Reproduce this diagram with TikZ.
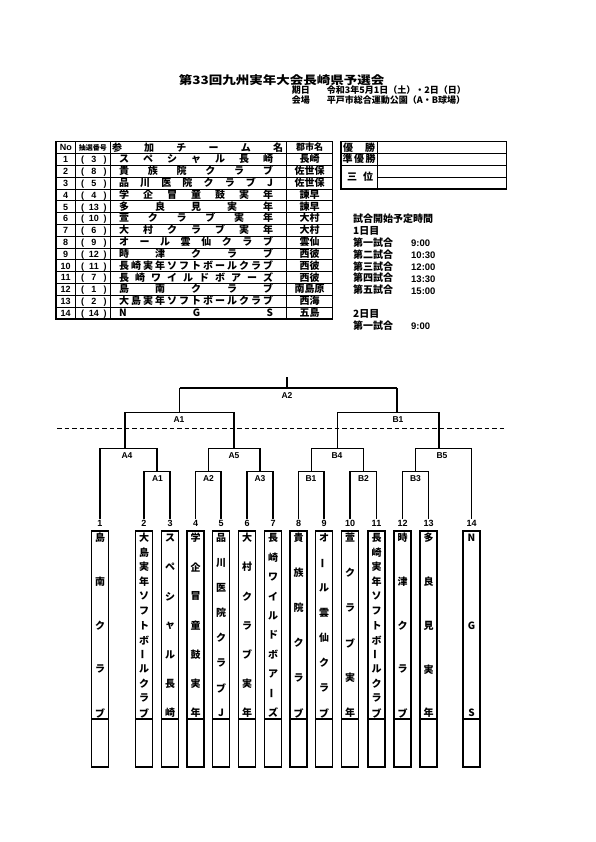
\documentclass[tikz,border=0pt]{standalone}
\usepackage{fontspec}
\setmainfont{Noto Sans CJK JP}
\newfontfamily\lat{Liberation Sans}
\newcommand\vb{\rotatebox[origin=c]{90}{ー}}
\tikzset{
  ln/.style={line width=0.9pt},
  tk/.style={line width=1.4pt},
  br/.style={line width=1.1pt},
  brt/.style={line width=1.7pt},
  jp/.style={inner sep=0pt, text height=7.8pt, text depth=1pt, font=\bfseries\fontsize{10}{10}\selectfont},
  jpm/.style={inner sep=0pt, text height=7.2pt, text depth=1pt, font=\bfseries\fontsize{9}{9}\selectfont},
  jpx/.style={inner sep=0pt, text height=5.6pt, text depth=0.8pt, font=\bfseries\fontsize{7}{7}\selectfont},
  lt/.style={inner sep=0pt, text height=6.5pt, text depth=0pt, font=\lat\bfseries\fontsize{9}{9}\selectfont},
  vch/.style={inner sep=0pt, font=\bfseries\fontsize{10}{10}\selectfont},
  blbl/.style={inner sep=0pt, font=\lat\bfseries\fontsize{8.5}{8.5}\selectfont},
  nlbl/.style={inner sep=1pt, font=\lat\bfseries\fontsize{9}{9}\selectfont},
  sch/.style={anchor=west, inner sep=0pt, text height=7.8pt, text depth=1pt, font=\bfseries\fontsize{10}{10}\selectfont},
  scht/.style={anchor=west, inner sep=0pt, font=\lat\bfseries\fontsize{9.5}{9.5}\selectfont},
  dashln/.style={line width=1pt, dash pattern=on 4.5pt off 3pt},
}
\begin{document}
\begin{tikzpicture}[x=1pt,y=-1pt]
\useasboundingbox[fill=white] (0,0) rectangle (595,842);

% ---------- title ----------
\node[font=\bfseries\fontsize{13.5}{14}\selectfont, inner sep=0pt] (title) at (281.7,80) {\scalebox{1}[0.85]{第33回九州実年大会長崎県予選会}};
\node[jpm, anchor=west] (kj) at (291.7,90.8) {期日};
\node[jpm, anchor=west] (kjv) at (326.7,90.8) {令和3年5月1日（土）・2日（日）};
\node[jpm, anchor=west] (kb) at (291.7,100) {会場};
\node[jpm, anchor=west] (kbv) at (326.7,100) {平戸市総合運動公園（A・B球場）};

% ---------- entry table ----------
\draw[tk] (56,141.8) rectangle (332.5,319);
\foreach \k in {1,...,14} {\draw[ln] (56,{141.8+11.81*\k}) -- (332.5,{141.8+11.81*\k});}
\foreach \xx in {75.5,110,286.5} {\draw[ln] (\xx,141.8) -- (\xx,319);}

\node[lt] (hno) at (65.75,147.7) {No};
\node[jpx] (hdn) at (92.75,147.7) {抽選番号};
\node[jp] (htm) at (197.5,147.7) {\makebox[171pt][s]{参\hfill 加\hfill チ\hfill ー\hfill ム\hfill 名}};
\node[jpm] (hct) at (309.5,147.7) {郡市名};

\foreach \dn/\team/\city [count=\r] in {
  3/{ス\hfill ペ\hfill シ\hfill ャ\hfill ル\hfill 長\hfill 崎}/長崎,
  8/{貴\hfill 族\hfill 院\hfill ク\hfill ラ\hfill ブ}/佐世保,
  5/{品\hfill 川\hfill 医\hfill 院\hfill ク\hfill ラ\hfill ブ\hfill J}/佐世保,
  4/{学\hfill 企\hfill 冒\hfill 童\hfill 鼓\hfill 実\hfill 年}/諫早,
  13/{多\hfill 良\hfill 見\hfill 実\hfill 年}/諫早,
  10/{萱\hfill ク\hfill ラ\hfill ブ\hfill 実\hfill 年}/大村,
  6/{大\hfill 村\hfill ク\hfill ラ\hfill ブ\hfill 実\hfill 年}/大村,
  9/{オ\hfill ー\hfill ル\hfill 雲\hfill 仙\hfill ク\hfill ラ\hfill ブ}/雲仙,
  12/{時\hfill 津\hfill ク\hfill ラ\hfill ブ}/西彼,
  11/{長\hfill 崎\hfill 実\hfill 年\hfill ソ\hfill フ\hfill ト\hfill ボ\hfill ー\hfill ル\hfill ク\hfill ラ\hfill ブ}/西彼,
  7/{長\hfill 崎\hfill ワ\hfill イ\hfill ル\hfill ド\hfill ボ\hfill ア\hfill ー\hfill ズ}/西彼,
  1/{島\hfill 南\hfill ク\hfill ラ\hfill ブ}/南島原,
  2/{大\hfill 島\hfill 実\hfill 年\hfill ソ\hfill フ\hfill ト\hfill ボ\hfill ー\hfill ル\hfill ク\hfill ラ\hfill ブ}/西海,
  14/{N\hfill G\hfill S}/五島} {
  \pgfmathsetmacro\yy{141.8+11.81*(\r+0.5)}
  \node[lt] (no\r) at (65.75,\yy) {\r};
  \node[lt] (lp\r) at (82.7,\yy) {(};
  \node[lt] (dn\r) at (94,\yy) {\dn};
  \node[lt] (rp\r) at (105,\yy) {)};
  \node[jp] (tm\r) at (196,\yy) {\makebox[154pt][s]{\team}};
  \node[jp] (ct\r) at (309.5,\yy) {\city};
}

% ---------- result box ----------
\draw[tk] (341,141.8) rectangle (506.5,189);
\draw[ln] (377.3,141.8) -- (377.3,189);
\draw[ln] (341,153.6) -- (506.5,153.6);
\draw[ln] (341,165.4) -- (506.5,165.4);
\draw[ln] (377.3,177.2) -- (506.5,177.2);
\node[jp] (r1) at (359.2,147.7) {\makebox[32pt][s]{優\hfill 勝}};
\node[jp] (r2) at (359.2,159.5) {\makebox[33pt][s]{準\hfill 優\hfill 勝}};
\node[jp] (r3) at (360,177.2) {\makebox[26pt][s]{三\hfill 位}};

% ---------- schedule ----------
\node[sch] (s0) at (353,219.5) {試合開始予定時間};
\node[sch] (s1) at (353,231.3) {1日目};
\node[sch] (s2) at (353,243.1) {第一試合};
\node[sch] (s3) at (353,254.9) {第二試合};
\node[sch] (s4) at (353,266.7) {第三試合};
\node[sch] (s5) at (353,278.5) {第四試合};
\node[sch] (s6) at (353,290.3) {第五試合};
\node[sch] (s7) at (353,313.9) {2日目};
\node[sch] (s8) at (353,325.7) {第一試合};
\node[scht] (t2) at (411,243.6) {9:00};
\node[scht] (t3) at (411,255.4) {10:30};
\node[scht] (t4) at (411,267.2) {12:00};
\node[scht] (t5) at (411,279.0) {13:30};
\node[scht] (t6) at (411,290.8) {15:00};
\node[scht] (t8) at (411,326.2) {9:00};

% ---------- entry columns ----------
\foreach \cx/\n/\lst [count=\k] in {
 100/5/{島,南,ク,ラ,ブ},
 144/13/{大,島,実,年,ソ,フ,ト,ボ,\vb,ル,ク,ラ,ブ},
 170/7/{ス,ペ,シ,ャ,ル,長,崎},
 195.5/7/{学,企,冒,童,鼓,実,年},
 221/8/{品,川,医,院,ク,ラ,ブ,J},
 247/7/{大,村,ク,ラ,ブ,実,年},
 273/10/{長,崎,ワ,イ,ル,ド,ボ,ア,\vb,ズ},
 298.5/6/{貴,族,院,ク,ラ,ブ},
 324/8/{オ,\vb,ル,雲,仙,ク,ラ,ブ},
 350/6/{萱,ク,ラ,ブ,実,年},
 376.5/13/{長,崎,実,年,ソ,フ,ト,ボ,\vb,ル,ク,ラ,ブ},
 402.5/5/{時,津,ク,ラ,ブ},
 428.5/5/{多,良,見,実,年},
 471.5/3/{N,G,S}} {
  \node[nlbl] (n\k) at (\cx,523.5) {\k};
  \draw[tk] (\cx-8.5,531) rectangle (\cx+8.5,767);
  \draw[tk] (\cx-8.5,719) -- (\cx+8.5,719);
  \foreach \c [count=\j] in \lst {
    \node[vch] (c\k-\j) at (\cx,{538+(\j-1)*175/(\n-1)}) {\c};
  }
}

% ---------- bracket ----------
\coordinate (top) at (287,377);
\coordinate (jA2) at (287,388.3);
\coordinate (jA1) at (179.5,412.7);
\coordinate (jB1) at (397,412.7);
\coordinate (jA4) at (125,448.3);
\coordinate (jA5) at (234,448.3);
\coordinate (jB4) at (337.3,448.3);
\coordinate (jB5) at (439,448.3);
\coordinate (mA1) at (157,471.7);
\coordinate (mA2) at (208.25,471.7);
\coordinate (mA3) at (260,471.7);
\coordinate (mB1) at (311.25,471.7);
\coordinate (mB2) at (363.5,471.7);
\coordinate (mB3) at (415.5,471.7);

\draw[brt] (top) -- (jA2);
\draw[br] (jA1) |- (jA2);
\draw[br] (jB1) |- (jA2);
\draw[brt] (179.5,388.3) -- (397,388.3);
\draw[br] (jA4) |- (jA1) -| (jA5);
\draw[br] (jB4) |- (jB1) -| (jB5);
\draw[br] (n1.north) |- (jA4) -| (mA1);
\draw[br] (mA2) |- (jA5) -| (mA3);
\draw[br] (mB1) |- (jB4) -| (mB2);
\draw[br] (mB3) |- (jB5) -| (n14.north);
\draw[br] (n2.north) |- (mA1) -| (n3.north);
\draw[br] (n4.north) |- (mA2) -| (n5.north);
\draw[br] (n6.north) |- (mA3) -| (n7.north);
\draw[br] (n8.north) |- (mB1) -| (n9.north);
\draw[br] (n10.north) |- (mB2) -| (n11.north);
\draw[br] (n12.north) |- (mB3) -| (n13.north);

\draw[dashln] (57,428.3) -- (507,428.3);

\node[blbl] (lA2) at (287,396) {A2};
\node[blbl] (lA1) at (179,420) {A1};
\node[blbl] (lB1) at (398,420) {B1};
\node[blbl] (lA4) at (127,455.5) {A4};
\node[blbl] (lA5) at (234,455.5) {A5};
\node[blbl] (lB4) at (337,455.5) {B4};
\node[blbl] (lB5) at (442,455.5) {B5};
\node[blbl] (la1) at (157.5,478.5) {A1};
\node[blbl] (la2) at (208.5,478.5) {A2};
\node[blbl] (la3) at (260,478.5) {A3};
\node[blbl] (lb1) at (311,478.5) {B1};
\node[blbl] (lb2) at (363.5,478.5) {B2};
\node[blbl] (lb3) at (415.5,478.5) {B3};
\end{tikzpicture}
\end{document}
